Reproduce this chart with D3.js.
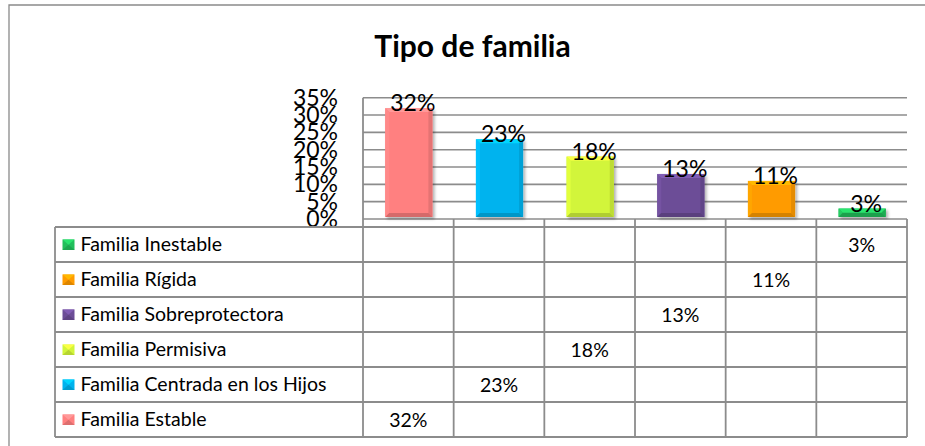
<!DOCTYPE html>
<html><head><meta charset="utf-8">
<script src="https://cdn.jsdelivr.net/npm/d3@7"></script>
<style>
body{margin:0;background:#fff}
svg{display:block;font-family:Lato,'Open Sans',sans-serif}
</style>
</head><body>
<svg id="c" width="925" height="446"></svg>
<script>
// ---- data ----
const title = "Tipo de familia";
const categories = ["Familia Estable","Familia Centrada en los Hijos","Familia Permisiva","Familia Sobreprotectora","Familia Rígida","Familia Inestable"];
const values = [32, 23, 18, 13, 11, 3];
const yTicks = [0, 5, 10, 15, 20, 25, 30, 35];
const yTickLabels = ["0%","5%","10%","15%","20%","25%","30%","35%"];
const colors = ["#FF8080","#00B3EE","#D2F53A","#6C4D97","#FF9B00","#22BF5C"];

// ---- layout ----
const svg = d3.select("#c");
const plotL = 363, plotR = 907, tableL = 55, tableTop = 227, tableBottom = 437;
const gridCol = "#8c8c8c";

const x = d3.scaleBand().domain(categories).range([plotL, plotR]).padding(0);
const y = d3.scaleLinear().domain([0, 35]).range([219, 97.7]);
const row = d3.scaleBand().domain(categories.slice().reverse()).range([tableTop, tableBottom]);

const defs = svg.append("defs");
const f = defs.append("filter").attr("id","sh").attr("x","-20%").attr("y","-20%").attr("width","150%").attr("height","150%");
f.append("feDropShadow").attr("dx",2).attr("dy",2).attr("stdDeviation",1.5).attr("flood-color","#000").attr("flood-opacity",0.3);

// frame
svg.append("path").attr("d","M9,446V5H925").attr("fill","none").attr("stroke","#8a8a8a").attr("stroke-width",1.3);

// title
svg.append("text").attr("x",472.5).attr("y",56.7).attr("text-anchor","middle")
  .attr("font-size",30).attr("font-weight","bold").attr("fill","#000").text(title);

// gridlines
svg.append("g").selectAll("line").data(yTicks).join("line")
  .attr("x1",plotL).attr("x2",plotR).attr("y1",d=>y(d)).attr("y2",d=>y(d))
  .attr("stroke",gridCol).attr("stroke-width",1.6);

// y labels
svg.append("g").selectAll("text").data(yTicks).join("text")
  .attr("x",338).attr("y",d=>y(d)+8).attr("text-anchor","end")
  .attr("font-size",23).attr("fill","#000").text((d,i)=>yTickLabels[i]);

// table lines
const tg = svg.append("g").attr("stroke",gridCol).attr("stroke-width",1.8);
tg.append("line").attr("x1",plotL).attr("x2",plotL).attr("y1",y(35)).attr("y2",tableBottom);
tg.append("line").attr("x1",tableL).attr("x2",tableL).attr("y1",tableTop).attr("y2",tableBottom);
categories.forEach(c=>{
  const xr = x(c)+x.bandwidth();
  tg.append("line").attr("x1",xr).attr("x2",xr).attr("y1",y(0)).attr("y2",tableBottom);
});
const rowEdges = categories.slice().reverse().map(c=>row(c)).concat([tableBottom]);
tg.selectAll(".rl").data(rowEdges).join("line")
  .attr("x1",tableL).attr("x2",plotR).attr("y1",d=>d).attr("y2",d=>d);

// bars with bevel
const barW = x.bandwidth()*0.52, b = 4;
categories.forEach((c,i)=>{
  const v = values[i];
  const x0 = x(c) + (x.bandwidth()-barW)/2 + 0.5, x1 = x0 + barW;
  const t = y(v), bt = y(0) - 2;
  const col = d3.color(colors[i]);
  const g = svg.append("g").attr("filter","url(#sh)");
  g.append("rect").attr("x",x0).attr("y",t).attr("width",barW).attr("height",bt-t).attr("fill",col);
  const bb = Math.min(b,(bt-t)/2);
  g.append("polygon").attr("points",[[x0,t],[x1,t],[x1-bb,t+bb],[x0+bb,t+bb]].join(" ")).attr("fill",col.brighter(0.5));
  g.append("polygon").attr("points",[[x0,t],[x0+bb,t+bb],[x0+bb,bt-bb],[x0,bt]].join(" ")).attr("fill",col.brighter(0.2));
  g.append("polygon").attr("points",[[x1,t],[x1-bb,t+bb],[x1-bb,bt-bb],[x1,bt]].join(" ")).attr("fill",col.darker(0.3));
  g.append("polygon").attr("points",[[x0,bt],[x0+bb,bt-bb],[x1-bb,bt-bb],[x1,bt]].join(" ")).attr("fill",col.darker(0.5));
  svg.append("text").attr("x",x0+barW/2+4).attr("y",t+3).attr("text-anchor","middle")
    .attr("font-size",23).attr("fill","#000").text(v+"%");
});

// legend rows
categories.forEach((c,i)=>{
  const cy = row(c) + row.bandwidth()/2;
  const col = d3.color(colors[i]);
  const mx = 62.5, mw = 12, mh = 10.5, my = cy - 5, mb = 3;
  svg.append("rect").attr("x",mx).attr("y",my).attr("width",mw).attr("height",mh).attr("fill",col);
  svg.append("polygon").attr("points",[[mx,my],[mx+mw,my],[mx+mw/2,my+mh/2]].join(" ")).attr("fill",col.brighter(0.5));
  svg.append("polygon").attr("points",[[mx,my+mh],[mx+mw/2,my+mh/2],[mx+mw,my+mh]].join(" ")).attr("fill",col.darker(0.4));
  svg.append("text").attr("x",80.5).attr("y",cy+6.5).attr("font-size",19.5).attr("fill","#000").text(c);
  svg.append("text").attr("x",x(c)+x.bandwidth()/2).attr("y",cy+7).attr("text-anchor","middle")
    .attr("font-size",19.5).attr("fill","#000").text(values[i]+"%");
});
</script>
</body></html>
